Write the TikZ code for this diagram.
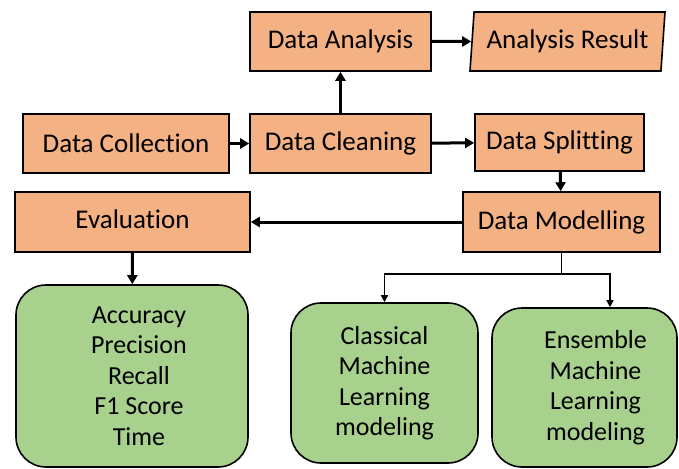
\documentclass[tikz,border=0pt]{standalone}
\usepackage{fontspec}
\setmainfont{Carlito}[Ligatures=NoCommon]
\usetikzlibrary{arrows.meta, shapes.geometric}
\definecolor{corange}{HTML}{F4B183}
\definecolor{cgreen}{HTML}{A9D18E}
\definecolor{cink}{HTML}{000000}

\begin{document}
\begin{tikzpicture}[
  x=1pt, y=-1pt,
  stage/.style={draw=cink, fill=corange, line width=1.6pt, text=cink, align=center,
                font=\fontsize{27}{31}\selectfont, inner sep=0pt},
  outcome/.style={draw=cink, fill=cgreen, line width=1.6pt, rounded corners=30pt,
                  text=cink, align=center, font=\fontsize{26}{30.5}\selectfont, inner sep=0pt},
  flow/.style={-{Triangle[length=9pt, width=10pt]}, line width=3pt, draw=cink},
  split/.style={-{Triangle[length=7pt, width=7pt]}, line width=1.5pt, draw=cink}
]
\useasboundingbox (0,0) rectangle (679,468);

% top row
\node[stage, minimum width=181pt, minimum height=59pt] (ana) at (340.5,41.5) {Data Analysis};
\node[stage, trapezium, trapezium left angle=80, trapezium right angle=100,
      trapezium stretches body, minimum width=195pt, minimum height=59pt] (res) at (567.5,41.5) {Analysis Result};

% middle row
\node[stage, minimum width=206pt, minimum height=59pt] (col) at (126,143.5) {Data Collection};
\node[stage, minimum width=181pt, minimum height=59pt] (cln) at (340.5,143.5) {Data Cleaning};
\node[stage, minimum width=169pt, minimum height=57pt] (spl) at (559.5,142.5) {Data Splitting};

% modelling and evaluation
\node[stage, minimum width=197pt, minimum height=60pt] (mod) at (561.5,222) {Data Modelling};
\node[stage, minimum width=235pt, minimum height=60pt] (eva) at (132.5,222) {\raisebox{6pt}{Evaluation}};

% results
\node[outcome, minimum width=232pt, minimum height=182pt] (met) at (132,376)
  {\hspace*{14pt}Accuracy\\\hspace*{14pt}Precision\\\hspace*{14pt}Recall\\\hspace*{14pt}F1 Score\\\hspace*{14pt}Time};
\node[outcome, minimum width=187pt, minimum height=160pt] (cls) at (384.5,383)
  {Classical\\Machine\\Learning\\modeling};
\node[outcome, minimum width=185pt, minimum height=159pt] (ens) at (584.5,387.5)
  {\hspace*{22pt}Ensemble\\\hspace*{22pt}Machine\\\hspace*{22pt}Learning\\\hspace*{22pt}modeling};

\draw[flow] (col) -- (cln);
\draw[flow] (cln) -- (ana);
\draw[flow] (ana) -- (res);
\draw[flow] (cln) -- (spl);
\draw[flow] (spl) -- (mod);
\draw[flow] (mod) -- (eva);
\draw[flow] (eva) -- (met);
\draw[split] (mod.south) -- ++(0,21) -| (cls.north);
\draw[split] (mod.south) -- ++(0,21) -| ([xshift=25.5pt]ens.north);
\end{tikzpicture}
\end{document}
